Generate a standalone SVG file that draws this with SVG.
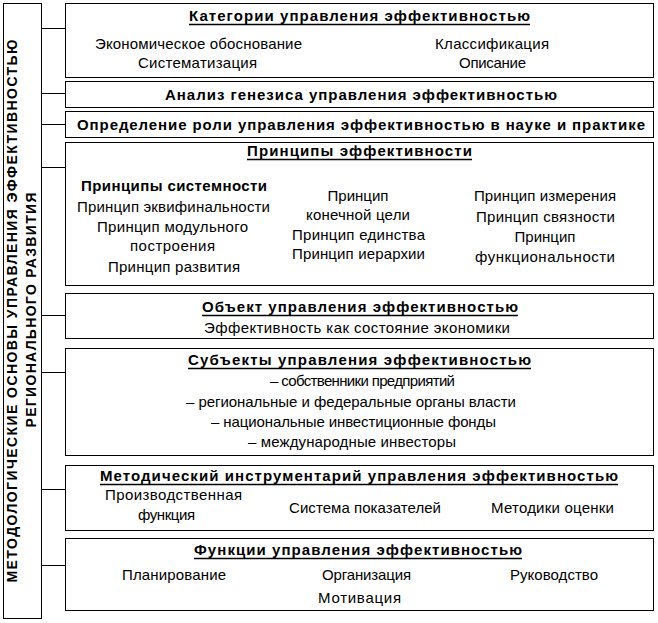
<svg xmlns="http://www.w3.org/2000/svg" width="658" height="623" viewBox="0 0 658 623">
<style>
  .box { fill: #fff; stroke: #000; stroke-width: 1; }
  .con { stroke: #000; stroke-width: 1; fill: none; }
  .ul { stroke: #000; stroke-width: 1.4; fill: none; }
  text { font-family: "Liberation Sans", Arial, sans-serif; fill: #000; }
  .t { font-size: 15px; font-weight: bold; }
  .r { font-size: 15px; }
  .c { text-anchor: middle; }
  .v { font-size: 14px; font-weight: bold; }
</style>
<rect width="658" height="623" fill="#fff"/>

<g id="connectors">
  <line class="con" x1="41" y1="28.5" x2="65" y2="28.5"/>
  <line class="con" x1="41" y1="93.5" x2="65" y2="93.5"/>
  <line class="con" x1="41" y1="124.5" x2="65" y2="124.5"/>
  <line class="con" x1="41" y1="167.5" x2="65" y2="167.5"/>
  <line class="con" x1="41" y1="315.5" x2="65" y2="315.5"/>
  <line class="con" x1="41" y1="372.5" x2="65" y2="372.5"/>
  <line class="con" x1="41" y1="489.5" x2="65" y2="489.5"/>
  <line class="con" x1="41" y1="565.5" x2="65" y2="565.5"/>
</g>

<g id="root">
  <rect class="box" x="3.5" y="3.5" width="38" height="615"/>
  <text class="v" transform="translate(17,311) rotate(-90)" text-anchor="middle" textLength="543" lengthAdjust="spacing">МЕТОДОЛОГИЧЕСКИЕ ОСНОВЫ УПРАВЛЕНИЯ ЭФФЕКТИВНОСТЬЮ</text>
  <text class="v" transform="translate(36,310) rotate(-90)" text-anchor="middle" textLength="235" lengthAdjust="spacing">РЕГИОНАЛЬНОГО РАЗВИТИЯ</text>
</g>

<g id="categories">
  <rect class="box" x="65.5" y="3.5" width="588" height="74"/>
  <text class="t" x="189" y="21" textLength="341" lengthAdjust="spacing">Категории управления эффективностью</text>
  <line class="ul" x1="189" y1="24.5" x2="530" y2="24.5"/>
  <text class="r" x="95" y="49" textLength="207" lengthAdjust="spacing">Экономическое обоснование</text>
  <text class="r" x="138" y="68" textLength="119" lengthAdjust="spacing">Систематизация</text>
  <text class="r" x="435" y="49" textLength="114" lengthAdjust="spacing">Классификация</text>
  <text class="r" x="459" y="68" textLength="67" lengthAdjust="spacing">Описание</text>
</g>

<g id="genesis">
  <rect class="box" x="65.5" y="81.5" width="588" height="26"/>
  <text class="t" x="165" y="100" textLength="392" lengthAdjust="spacing">Анализ генезиса управления эффективностью</text>
</g>

<g id="role">
  <rect class="box" x="65.5" y="111.5" width="588" height="26"/>
  <text class="t" x="77" y="130" textLength="568" lengthAdjust="spacing">Определение роли управления эффективностью в науке и практике</text>
</g>

<g id="principles">
  <rect class="box" x="65.5" y="142.5" width="588" height="143"/>
  <text class="t" x="247" y="156" textLength="225" lengthAdjust="spacing">Принципы эффективности</text>
  <line class="ul" x1="247" y1="159.5" x2="472" y2="159.5"/>
  <text class="t" x="81" y="191" textLength="186" lengthAdjust="spacing">Принципы системности</text>
  <text class="r" x="77" y="212" textLength="193" lengthAdjust="spacing">Принцип эквифинальности</text>
  <text class="r" x="97" y="232" textLength="151" lengthAdjust="spacing">Принцип модульного</text>
  <text class="r" x="130" y="251" textLength="85" lengthAdjust="spacing">построения</text>
  <text class="r" x="108" y="272" textLength="132" lengthAdjust="spacing">Принцип развития</text>
  <text class="r c" x="358" y="201">Принцип</text>
  <text class="r" x="306" y="220" textLength="104" lengthAdjust="spacing">конечной цели</text>
  <text class="r" x="292" y="240" textLength="133" lengthAdjust="spacing">Принцип единства</text>
  <text class="r" x="292" y="259" textLength="133" lengthAdjust="spacing">Принцип иерархии</text>
  <text class="r" x="474" y="201" textLength="142" lengthAdjust="spacing">Принцип измерения</text>
  <text class="r" x="476" y="222" textLength="139" lengthAdjust="spacing">Принцип связности</text>
  <text class="r c" x="545" y="242">Принцип</text>
  <text class="r" x="475" y="262" textLength="140" lengthAdjust="spacing">функциональности</text>
</g>

<g id="object">
  <rect class="box" x="65.5" y="293.5" width="588" height="45"/>
  <text class="t" x="202" y="312" textLength="316" lengthAdjust="spacing">Объект управления эффективностью</text>
  <line class="ul" x1="202" y1="315.5" x2="518" y2="315.5"/>
  <text class="r" x="204" y="333" textLength="306" lengthAdjust="spacing">Эффективность как состояние экономики</text>
</g>

<g id="subjects">
  <rect class="box" x="65.5" y="348.5" width="588" height="107"/>
  <text class="t" x="188" y="365" textLength="343" lengthAdjust="spacing">Субъекты управления эффективностью</text>
  <line class="ul" x1="188" y1="368.5" x2="531" y2="368.5"/>
  <text class="r" x="270" y="386" textLength="185" lengthAdjust="spacing">– собственники предприятий</text>
  <text class="r" x="186" y="407" textLength="330" lengthAdjust="spacing">– региональные и федеральные органы власти</text>
  <text class="r" x="211" y="427" textLength="285" lengthAdjust="spacing">– национальные инвестиционные фонды</text>
  <text class="r" x="248" y="447" textLength="208" lengthAdjust="spacing">– международные инвесторы</text>
</g>

<g id="methods">
  <rect class="box" x="65.5" y="465.5" width="588" height="65"/>
  <text class="t" x="100" y="481" textLength="518" lengthAdjust="spacing">Методический инструментарий управления эффективностью</text>
  <line class="ul" x1="100" y1="484.5" x2="618" y2="484.5"/>
  <text class="r" x="105" y="500" textLength="137" lengthAdjust="spacing">Производственная</text>
  <text class="r" x="138" y="520" textLength="57" lengthAdjust="spacing">функция</text>
  <text class="r" x="289" y="513" textLength="152" lengthAdjust="spacing">Система показателей</text>
  <text class="r" x="491" y="513" textLength="123" lengthAdjust="spacing">Методики оценки</text>
</g>

<g id="functions">
  <rect class="box" x="65.5" y="538.5" width="588" height="72"/>
  <text class="t" x="194" y="555" textLength="328" lengthAdjust="spacing">Функции управления эффективностью</text>
  <line class="ul" x1="194" y1="558.5" x2="522" y2="558.5"/>
  <text class="r" x="122" y="580" textLength="104" lengthAdjust="spacing">Планирование</text>
  <text class="r" x="322" y="580" textLength="89" lengthAdjust="spacing">Организация</text>
  <text class="r" x="510" y="580" textLength="88" lengthAdjust="spacing">Руководство</text>
  <text class="r" x="318" y="603" textLength="83" lengthAdjust="spacing">Мотивация</text>
</g>
</svg>
